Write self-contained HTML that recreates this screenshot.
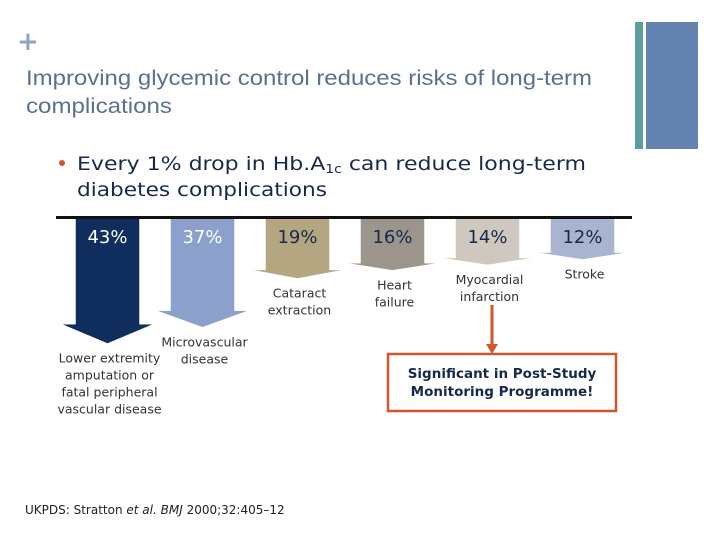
<!DOCTYPE html>
<html><head><meta charset="utf-8"><style>
html,body{margin:0;padding:0;background:#fff}
svg{display:block}
text{font-family:"DejaVu Sans","Liberation Sans",sans-serif}
</style></head><body>
<svg id="chart" width="720" height="540" viewBox="0 0 720 540">
<rect x="635" y="22" width="8" height="127" fill="#5a9ea0"/>
<rect x="646" y="22" width="52" height="127" fill="#6383b0"/>
<text x="17" y="50" font-size="26" font-weight="bold" fill="#8fa5c4" font-family="Liberation Sans">+</text>
<g fill="#5c7090" font-size="21">
<text x="26" y="85" textLength="566" lengthAdjust="spacingAndGlyphs" style="font-family:'Liberation Sans',sans-serif">Improving glycemic control reduces risks of long-term</text>
<text x="26" y="113" textLength="146" lengthAdjust="spacingAndGlyphs" style="font-family:'Liberation Sans',sans-serif">complications</text>
</g>
<circle cx="62" cy="163" r="3" fill="#d2562a"/>
<g fill="#17294a" font-size="19">
<text x="77" y="170" textLength="509" lengthAdjust="spacingAndGlyphs">Every 1% drop in Hb.A<tspan font-size="12" dy="3">1c</tspan><tspan dy="-3"> can reduce long-term</tspan></text>
<text x="77" y="196" textLength="250" lengthAdjust="spacingAndGlyphs">diabetes complications</text>
</g>
<g id="arrows"></g>
<rect x="56" y="216" width="576" height="3" fill="#111"/>
<line x1="492" y1="305" x2="492" y2="346" stroke="#d2562a" stroke-width="3"/>
<polygon points="486,344 498,344 492,354" fill="#d2562a"/>
<rect x="388" y="354" width="228" height="57" fill="#fff" stroke="#d2562a" stroke-width="2.5"/>
<g font-size="13.5" font-weight="bold" fill="#17294a" text-anchor="middle">
<text x="502" y="378">Significant in Post-Study</text>
<text x="502" y="396">Monitoring Programme!</text>
</g>
<text x="25" y="514" font-size="12" fill="#222">UKPDS: Stratton <tspan font-style="italic">et al.</tspan> <tspan font-style="italic">BMJ</tspan> 2000;32:405–12</text>
</svg>
<script>
const categories=["Lower extremity amputation or fatal peripheral vascular disease","Microvascular disease","Cataract extraction","Heart failure","Myocardial infarction","Stroke"];
const values=[43,37,19,16,14,12];
const valueLabels=["43%","37%","19%","16%","14%","12%"];
const labelLines=[["Lower extremity","amputation or","fatal peripheral","vascular disease"],["Microvascular","disease"],["Cataract","extraction"],["Heart","failure"],["Myocardial","infarction"],["Stroke"]];
const colors=["#0f2e5e","#8ba0cb","#b4a681","#9b958b","#cfc8bf","#a9b4d0"];
const textColors=["#fff","#fff","#17294a","#17294a","#17294a","#17294a"];
const NS="http://www.w3.org/2000/svg";
const g=document.getElementById('arrows');
const top0=218;
function xCenter(i){return 107.5+i*95;}
function yLen(v){return 9+2.71*v;}
function mk(t,a){const e=document.createElementNS(NS,t);for(const k in a)e.setAttribute(k,a[k]);return e;}
values.forEach((v,i)=>{
 const cx=xCenter(i), tip=top0+yLen(v), hh=Math.max(7,Math.min(20,v*0.45)), base=tip-hh;
 const sw=32, hw=46;
 const p=mk('polygon',{points:`${cx-sw},${top0} ${cx+sw},${top0} ${cx+sw},${base} ${cx+hw},${base} ${cx},${tip} ${cx-hw},${base} ${cx-sw},${base}`,fill:colors[i],stroke:'#fff','stroke-width':0.5});
 
 
 g.appendChild(p);
 const t=mk('text',{x:cx,y:top0+25,'text-anchor':'middle','font-size':18,fill:textColors[i]});
 t.textContent=valueLabels[i];
 
 
 g.appendChild(t);
 const lines=labelLines[i];
 const lx = cx+2;
 const ly = tip+19;
 lines.forEach((ln,j)=>{
  const tt=mk('text',{x:lx,y:ly+j*17,'text-anchor':'middle','font-size':12.5,fill:'#333'});
  tt.textContent=ln;
  
  
  g.appendChild(tt);
 });
});
</script>
</body></html>
